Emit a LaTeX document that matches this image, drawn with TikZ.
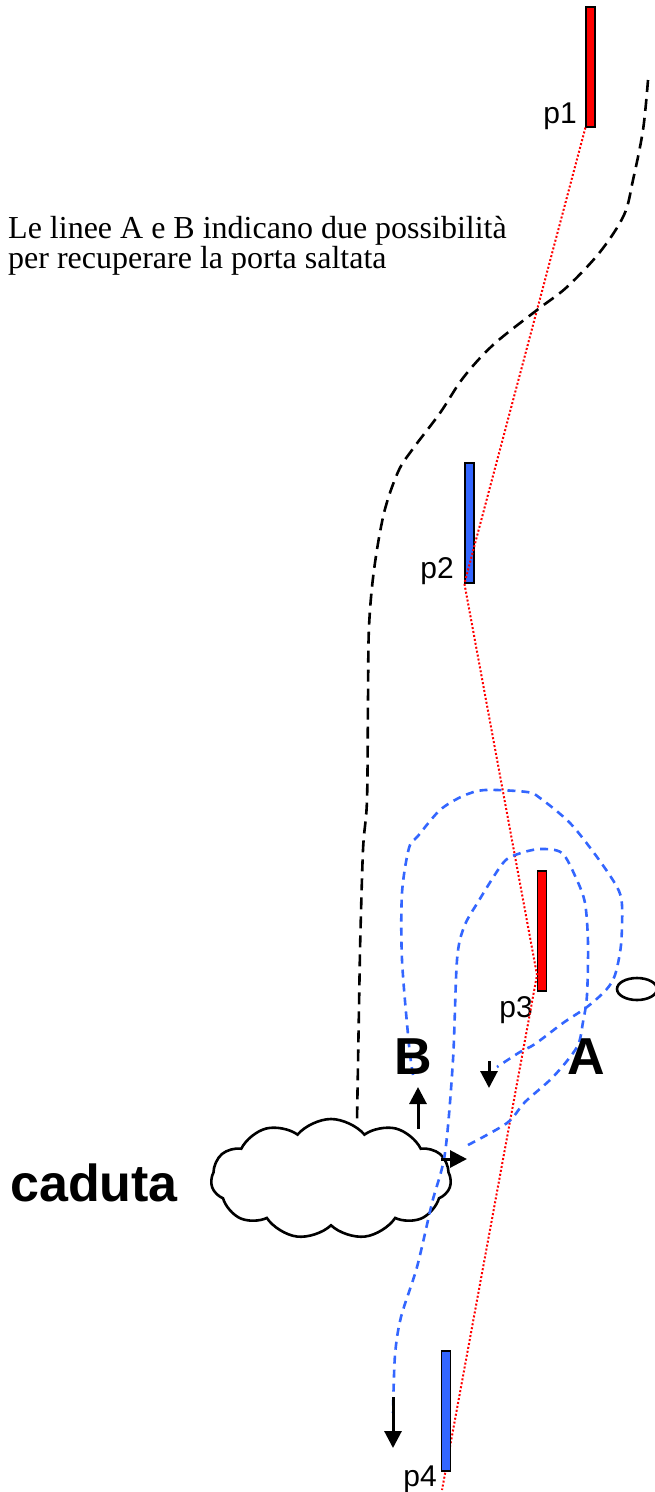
\documentclass[tikz,border=0pt]{standalone}
\usepackage{fontspec}
\setmainfont{Liberation Serif}
\setsansfont{Liberation Sans}
\usepackage{tikz}
\usetikzlibrary{arrows.meta, shapes.symbols, positioning}
\definecolor{gatered}{RGB}{255, 0, 0}
\definecolor{gateblue}{RGB}{51, 102, 255}
\definecolor{lineblue}{RGB}{51, 102, 255}

\begin{document}
\begin{tikzpicture}[x=1pt, y=-1pt,
    gate/.style={draw=black, line width=1.2pt, minimum width=9pt, minimum height=120pt, inner sep=0pt},
    gatelabel/.style={anchor=east, inner sep=0pt, font=\sffamily\fontsize{30}{30}\selectfont},
    biglabel/.style={inner sep=0pt, font=\sffamily\bfseries\fontsize{52}{52}\selectfont},
    skiarrow/.style={-{Triangle[width=17pt, length=17pt]}, line width=3pt},
    recovery/.style={lineblue, line width=2.6pt, dash pattern=on 8pt off 6pt},
    fallpath/.style={black, line width=2.6pt, dash pattern=on 12pt off 7pt},
    idealline/.style={gatered, line width=2pt, dash pattern=on 2pt off 2pt}]
    \useasboundingbox (0,0) rectangle (655,1492);

    % Note
    \node[anchor=base west, align=left, inner sep=0pt, font=\fontsize{32}{30}\selectfont] (note) at (8,268)
        {Le linee A e B indicano due possibilità\\per recuperare la porta saltata};

    % ==== Gates ====
    \node[gate, fill=gatered] (p1) at (590.5,67) {};
    \node[gate, fill=gateblue] (p2) at (469.5,523) {};
    \node[gate, fill=gatered] (p3) at (542,931) {};
    \node[gatelabel] (p1lab) at (577,116) {p1};
    \node[gatelabel] (p2lab) at (454,571) {p2};
    \node[gatelabel] (p3lab) at (533,1010) {p3};
    \node[gatelabel] (p4lab) at (437,1479) {p4};

    % Ideal line through the gates
    \coordinate (p3turn) at (537,975);
    \coordinate (p4end) at (442,1490);
    \draw[idealline] (p1.south west) -- (p2.south west) -- (p3turn) -- (p4end);
    \node[gate, fill=gateblue] (p4) at (446,1411) {};

    % ==== Fall ====
    \node[cloud, draw, fill=white, line width=2.6pt, cloud puffs=11, cloud puff arc=100, aspect=2,
          minimum width=240pt, minimum height=120pt, inner sep=0pt] (fall) at (331,1179) {};
    \node[biglabel, anchor=west] (caduta) at (10,1183) {caduta};

    % Line skied before the fall (dashed black)
    \coordinate (fallin) at (357,1121);
    \draw[fallpath] plot[smooth, tension=0.55] coordinates {
        (648,80) (643,130) (633,180) (624,215) (600,252) (567,287) (537,310) (493,345)
        (463,378) (440,413) (412,450) (398,472) (384,513) (374,570) (369,627) (368,700)
        (367,800) (363,850) (360,950)} -- (fallin);

    % ==== Recovery lines ====
    % A: around p3 from the right, then down to p4
    \draw[recovery] plot[smooth, tension=0.5] coordinates {
        (468,1145) (507,1123) (525,1102) (553,1077) (577,1047) (583,1022) (587,995)
        (588,943) (585,903) (576,878) (562,853) (540,849) (518,854) (503,863) (478,902)
        (464,927) (457,960) (453,1060) (445,1153) (432,1203) (417,1267) (401,1317)
        (395,1355) (393,1413)};
    % B: wide loop round p3 from the left
    \draw[recovery] plot[smooth, tension=0.5] coordinates {
        (413,1075) (409,1045) (402,960) (402,893) (409,848) (418,836) (440,810) (463,796)
        (485,790) (527,792) (540,798) (570,823) (597,857) (617,887) (622,905) (621,945)
        (615,975) (606,990) (587,1007) (563,1023) (535,1044) (520,1052) (497,1067)};

    % Arrows
    \coordinate (upfrom) at (418,1129);
    \coordinate (upto) at (418,1087);
    \coordinate (rightfrom) at (441,1159);
    \coordinate (rightto) at (467,1159);
    \coordinate (downAfrom) at (489,1061);
    \coordinate (downAto) at (489,1088);
    \coordinate (downBfrom) at (393,1397);
    \coordinate (downBto) at (393,1448);
    \draw[skiarrow] (upfrom) -- (upto);
    \draw[skiarrow] (rightfrom) -- (rightto);
    \draw[skiarrow] (downAfrom) -- (downAto);
    \draw[skiarrow] (downBfrom) -- (downBto);

    \node[biglabel] (labB) at (413,1057) {B};
    \node[biglabel] (labA) at (586,1057) {A};

    % Small ellipse at the right border
    \draw[line width=2.6pt] (637,989) ellipse [x radius=20, y radius=11];
\end{tikzpicture}
\end{document}
